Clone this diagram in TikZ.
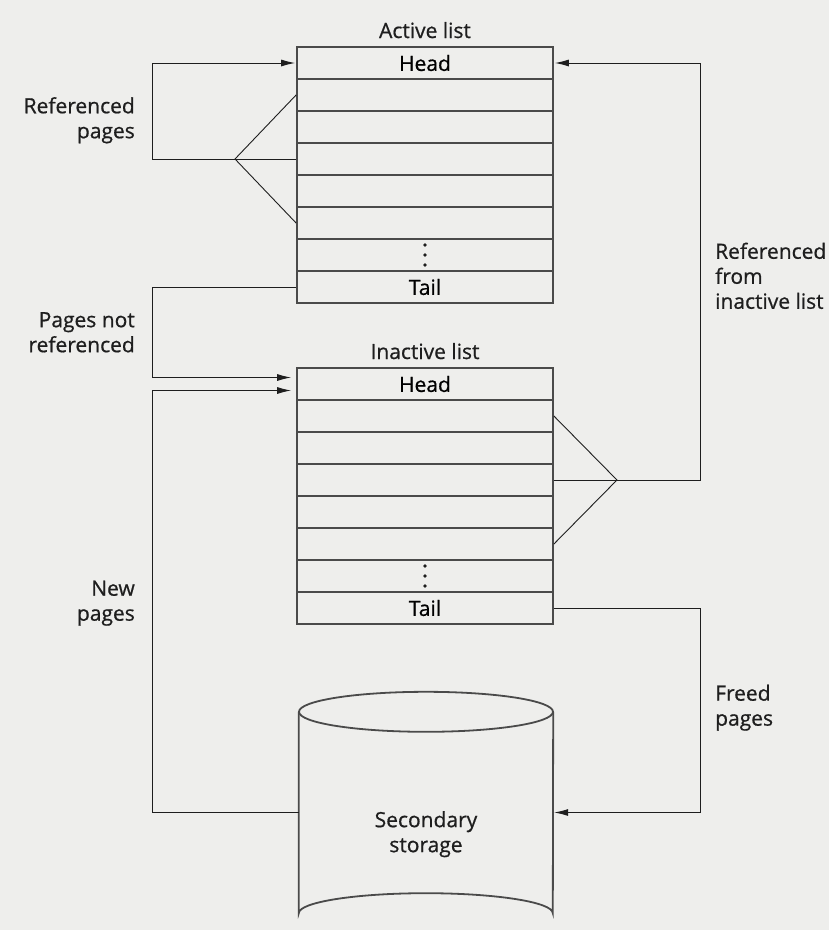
\documentclass[tikz,border=0pt]{standalone}
\usepackage{fontspec}
\setsansfont{Open Sans}[FakeBold=0.7]
\usepackage{tikz}
\usetikzlibrary{arrows.meta,calc}

\definecolor{paper}{HTML}{EEEEEC}
\definecolor{ink}{HTML}{1E1E1E}
\definecolor{rule}{HTML}{4A4A4A}

\begin{document}
\begin{tikzpicture}[
    x=1pt, y=-1pt,
    cell/.style={draw=rule, line width=1.8pt, minimum width=256pt, minimum height=32pt, inner sep=0pt, font=\sffamily\fontsize{21}{25}\selectfont},
    lbl/.style={inner sep=0pt, text=ink, font=\sffamily\fontsize{21}{25}\selectfont},
    link/.style={draw=ink, line width=0.9pt},
    arr/.style={link, -{Latex[length=14pt,width=7pt]}, shorten >=1pt},
    wall/.style={draw=rule, line width=1.8pt}
]
\useasboundingbox (0,0) rectangle (829,930);
\fill[paper] (0,0) rectangle (829,930);

% active and inactive lists
\foreach \k/\txt in {1/Head,2/,3/,4/,5/,6/,7/,8/Tail} {
    \node[cell] (a\k) at (425,31+32*\k) {\txt};
    \node[cell] (i\k) at (425,352+32*\k) {\txt};
}
\foreach \r in {a7,i7}
    \foreach \d in {-10,0,10}
        \fill[ink] ([yshift=\d pt]\r.center) circle (1.8pt);

\node[lbl, anchor=base] (atitle) at (425,38) {Active list};
\node[lbl, anchor=base] (ititle) at (425,359) {Inactive list};

% secondary storage
\node[minimum width=254pt, minimum height=201pt, inner sep=0pt] (disk) at (426,812.5) {};
\draw[wall] (disk.north west) -- (disk.south west)
    arc[start angle=180, end angle=360, x radius=127, y radius=20] -- (disk.north east);
\draw[wall] (disk.north) ellipse[x radius=127, y radius=20];
\node[lbl, anchor=north, align=center] (disktext) at (426,811) {Secondary\\storage};

% side labels
\node[lbl, anchor=north east, align=right] (refp) at (135,97) {Referenced\\pages};
\node[lbl, anchor=north east, align=right] (notref) at (135,312) {Pages not\\referenced};
\node[lbl, anchor=north east, align=right] (newp) at (135,580.5) {New\\pages};
\node[lbl, anchor=north west, align=left] (reffrom) at (715,242.5) {Referenced\\from\\inactive list};
\node[lbl, anchor=north west, align=left] (freed) at (715,684.5) {Freed\\pages};

% connectors
\coordinate (lft) at (152,0);
\coordinate (rgt) at (700,0);
\coordinate (vA) at (235,159);
\coordinate (vB) at (617,480);

\draw[link] (a2.west) -- (vA) -- (a6.west);
\draw[arr] (a4.west) -- (a4.west -| lft) |- (a1.west);
\draw[arr, shorten >=5pt] (a8.west) -- (a8.west -| lft) |- ([yshift=6.5pt]i1.west);
\draw[arr, shorten >=5pt] (disk.west) -- (disk.west -| lft) |- ([yshift=-6.5pt]i1.west);

\draw[link] (i2.east) -- (vB) -- (i6.east);
\draw[arr] (i4.east) -- (i4.east -| rgt) |- (a1.east);
\draw[arr] (i8.east) -- (i8.east -| rgt) |- (disk.east);
\end{tikzpicture}
\end{document}
